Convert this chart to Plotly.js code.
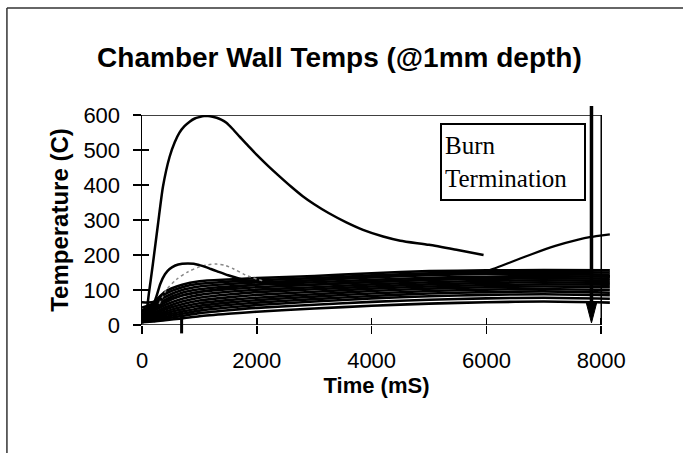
<!DOCTYPE html>
<html>
<head>
<meta charset="utf-8">
<script src="https://cdn.plot.ly/plotly-3.0.1.min.js"></script>
<style>
html,body{margin:0;padding:0;background:#fff;}
#chart{width:683px;height:453px;}
</style>
</head>
<body>
<div id="chart"></div>
<script>
// ---- data ----
const chartTitle = "Chamber Wall Temps (@1mm depth)";
const xTitle = "Time (mS)";
const yTitle = "Temperature (C)";
const noteText = "Burn<br>Termination";
const xTickVals = [0, 2000, 4000, 6000, 8000];
const yTickVals = [0, 100, 200, 300, 400, 500, 600];
const burnEndTime = 7830;
const ignitionMarkTime = 690;

// hottest sensor
const tPeak = [0, 60, 120, 190, 280, 365, 480, 570, 650, 740, 830, 920, 1000, 1080, 1150, 1230, 1300, 1380, 1470, 1580, 1700, 1850, 2000, 2200, 2400, 2600, 2800, 3000, 3250, 3550, 3850, 4200, 4500, 5000, 5500, 5950];
const yPeak = [5, 20, 90, 175, 290, 395, 480, 522, 549, 568, 581, 590, 594, 597, 597, 595, 592, 587, 578, 560, 538, 512, 486, 454, 424, 395, 368, 345, 320, 294, 272, 253, 241, 229, 214, 200];

// secondary hump sensor
const tHump = [0, 150, 250, 320, 400, 480, 580, 700, 800, 900, 1000, 1100, 1200, 1300, 1500, 1700, 1900, 2200, 2600, 3000, 4000, 5000, 6000, 7000, 8150];
const yHump = [20, 40, 81, 118, 145, 160, 170, 175, 176, 175, 171, 166, 160, 154, 142, 132, 124, 118, 114, 116, 123, 130, 134, 137, 139];

// dotted grey sensor
const tDot = [300, 424, 600, 800, 1000, 1150, 1300, 1450, 1600, 1800, 2100];
const yDot = [60, 100, 130, 152, 166, 172, 174, 170, 160, 143, 126];

// late-rising sensor
const tRise = [0, 200, 500, 1000, 2000, 3000, 4000, 5000, 5700, 6000, 6400, 6800, 7200, 7600, 7800, 8150];
const yRise = [40, 55, 75, 95, 115, 128, 138, 145, 150, 154, 178, 203, 226, 244, 251, 259];

// bundle of remaining sensors
const tBand = [0, 200, 400, 700, 1000, 1500, 2000, 3000, 4000, 5000, 6000, 7000, 8150];
const band01 = [65, 66, 95, 115, 125, 130, 134, 140, 148, 154, 156, 157, 156];
const band02 = [50, 62, 88, 108, 118, 124, 128, 134, 142, 148, 151, 152, 150];
const band03 = [42, 58, 80, 100, 110, 117, 122, 128, 136, 142, 146, 146, 144];
const band04 = [36, 50, 72, 92, 102, 110, 115, 122, 129, 135, 138, 140, 138];
const band05 = [32, 45, 64, 84, 94, 102, 108, 115, 123, 129, 132, 133, 132];
const band06 = [28, 40, 57, 75, 86, 95, 101, 108, 116, 122, 126, 128, 126];
const band07 = [25, 35, 50, 67, 78, 87, 94, 102, 110, 116, 120, 122, 120];
const band08 = [22, 31, 44, 59, 70, 79, 86, 95, 104, 110, 114, 116, 115];
const band09 = [20, 27, 38, 52, 62, 71, 78, 88, 97, 104, 108, 110, 108];
const band10 = [18, 24, 33, 45, 55, 64, 71, 81, 90, 97, 101, 103, 100];
const band11 = [15, 20, 28, 38, 48, 57, 64, 74, 83, 90, 94, 96, 92];
const band12 = [12, 16, 23, 32, 41, 50, 57, 67, 76, 82, 86, 88, 85];
const band13 = [10, 13, 18, 26, 34, 42, 49, 58, 66, 72, 76, 78, 75];
const band14 = [8, 10, 14, 19, 25, 32, 38, 47, 55, 61, 65, 67, 64];
const bandSeries = [band01, band02, band03, band04, band05, band06, band07, band08, band09, band10, band11, band12, band13, band14];

// ---- build traces ----
const traces = [];
bandSeries.forEach(function (ys) {
  traces.push({x: tBand, y: ys, type: 'scatter', mode: 'lines', line: {color: '#000', width: 2.6, shape: 'spline', smoothing: 0.6}, hoverinfo: 'skip'});
});
traces.push({x: tRise, y: yRise, type: 'scatter', mode: 'lines', line: {color: '#000', width: 2.2, shape: 'spline', smoothing: 0.5}});
traces.push({x: tDot, y: yDot, type: 'scatter', mode: 'lines', line: {color: '#888', width: 1.5, dash: 'dot', shape: 'spline', smoothing: 0.8}});
traces.push({x: tHump, y: yHump, type: 'scatter', mode: 'lines', line: {color: '#000', width: 2.5, shape: 'spline', smoothing: 0.8}});
traces.push({x: tPeak, y: yPeak, type: 'scatter', mode: 'lines', line: {color: '#000', width: 2.5, shape: 'spline', smoothing: 0.6}});
// invisible trace for the overlay (inside tick) axes
traces.push({x: [0], y: [0], xaxis: 'x2', yaxis: 'y2', type: 'scatter', mode: 'markers', marker: {opacity: 0}, hoverinfo: 'skip'});

const xMax = xTickVals[xTickVals.length - 1];
const yMax = yTickVals[yTickVals.length - 1];
const xRange = [0, 8170];

const layout = {
  width: 683, height: 453,
  margin: {l: 142, r: 72, t: 115, b: 128, pad: 0},
  paper_bgcolor: '#fff', plot_bgcolor: '#fff',
  showlegend: false,
  font: {family: '"Liberation Sans", Arial, sans-serif', color: '#000'},
  title: {
    text: '<b>' + chartTitle + '</b>',
    font: {family: '"Liberation Sans", Arial, sans-serif', size: 28, color: '#000'},
    x: 0.497, xref: 'container', xanchor: 'center',
    y: 61, yref: 'container', yanchor: 'middle'
  },
  xaxis: {
    range: xRange, tickvals: xTickVals, ticktext: xTickVals.map(String),
    showgrid: false, zeroline: false, showline: false,
    ticks: 'outside', ticklen: 8, tickwidth: 1.5, tickcolor: '#000',
    tickfont: {size: 22, color: '#000'}, ticklabelstandoff: 8,
    title: {text: '<b>' + xTitle + '</b>', font: {size: 22, color: '#000'}, standoff: 3}
  },
  yaxis: {
    range: [0, yMax], tickvals: yTickVals, ticktext: yTickVals.map(String),
    showgrid: false, zeroline: false, showline: true, linecolor: '#000', linewidth: 1.5,
    ticks: 'outside', ticklen: 8, tickwidth: 1.5, tickcolor: '#000',
    tickfont: {size: 22, color: '#000'}, ticklabelstandoff: 8,
    title: {text: '<b>' + yTitle + '</b>', font: {size: 24, color: '#000'}, standoff: 8}
  },
  xaxis2: {overlaying: 'x', matches: 'x', range: xRange, tickvals: xTickVals, showticklabels: false,
    ticks: 'inside', ticklen: 7, tickwidth: 1.5, tickcolor: '#000', showgrid: false, zeroline: false, showline: false},
  yaxis2: {overlaying: 'y', range: [0, yMax], tickvals: yTickVals, showticklabels: false,
    ticks: 'inside', ticklen: 7, tickwidth: 1.5, tickcolor: '#000', showgrid: false, zeroline: false, showline: false},
  shapes: [
    // plot frame (bottom, top, right) ending at last tick
    {type: 'line', xref: 'x', yref: 'y', x0: 0, x1: xMax, y0: 0, y1: 0, line: {color: '#000', width: 1.5}},
    {type: 'line', xref: 'x', yref: 'y', x0: 0, x1: xMax, y0: yMax, y1: yMax, line: {color: '#000', width: 1.5}},
    {type: 'line', xref: 'x', yref: 'y', x0: xMax, x1: xMax, y0: 0, y1: yMax, line: {color: '#000', width: 1.5}},
    // burn termination arrow
    {type: 'line', xref: 'x', yref: 'paper', x0: burnEndTime, x1: burnEndTime, y0: 0.1, y1: 1.043, line: {color: '#000', width: 3.5}},
    {type: 'path', xref: 'x', yref: 'paper', path: 'M ' + (burnEndTime - 90) + ',0.105 L ' + (burnEndTime + 90) + ',0.105 L ' + burnEndTime + ',0.01 Z',
      fillcolor: '#000', line: {color: '#000', width: 1}},
    // ignition mark below axis
    {type: 'line', xref: 'x', yref: 'paper', x0: ignitionMarkTime, x1: ignitionMarkTime, y0: 0.07, y1: -0.04, line: {color: '#000', width: 3}},
    // outer chart border (left and top)
    {type: 'line', xref: 'paper', yref: 'paper', x0: -0.288, x1: -0.288, y0: -0.62, y1: 1.5095, line: {color: '#333', width: 1.5}},
    {type: 'line', xref: 'paper', yref: 'paper', x0: -0.288, x1: 1.2, y0: 1.5095, y1: 1.5095, line: {color: '#333', width: 1.5}}
  ],
  annotations: [
    {xref: 'x', yref: 'y', x: 7740, y: 578, xanchor: 'right', yanchor: 'top',
     text: noteText, align: 'left', showarrow: false, width: 136, height: 68,
     font: {family: '"Liberation Serif", "Times New Roman", serif', size: 25, color: '#000'},
     bordercolor: '#000', borderwidth: 2, borderpad: 3, bgcolor: '#fff'}
  ]
};

Plotly.newPlot('chart', traces, layout, {staticPlot: true, displayModeBar: false});
</script>
</body>
</html>
